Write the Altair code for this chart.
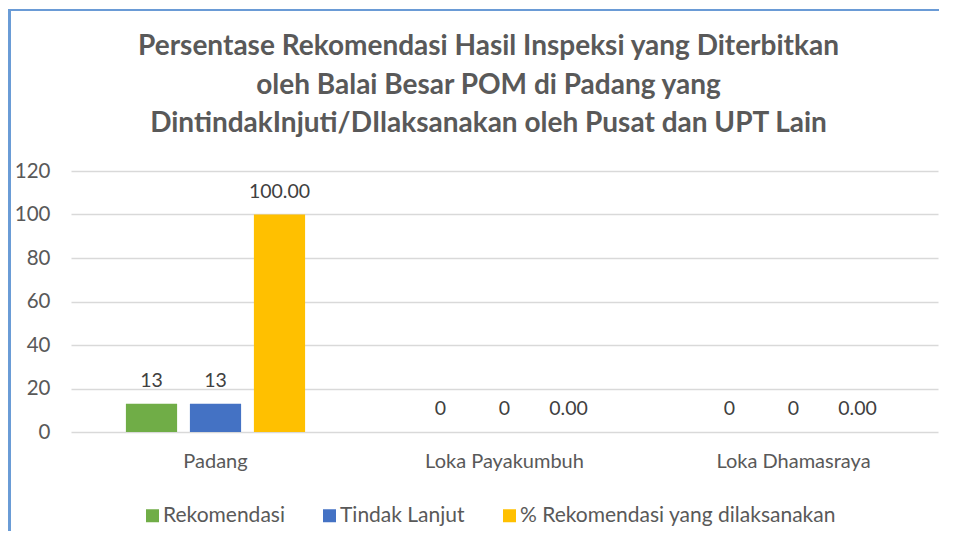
import altair as alt
import pandas as pd

categories = ["Padang", "Loka Payakumbuh", "Loka Dhamasraya"]
series = ["Rekomendasi", "Tindak Lanjut", "% Rekomendasi yang dilaksanakan"]
rekomendasi = [13, 0, 0]
tindak_lanjut = [13, 0, 0]
persen = [100.00, 0.00, 0.00]
colors = ["#70AD47", "#4472C4", "#FFC000"]

rows = []
for i, c in enumerate(categories):
    rows.append({"cat": c, "series": series[0], "value": rekomendasi[i], "label": f"{rekomendasi[i]:d}"})
    rows.append({"cat": c, "series": series[1], "value": tindak_lanjut[i], "label": f"{tindak_lanjut[i]:d}"})
    rows.append({"cat": c, "series": series[2], "value": persen[i], "label": f"{persen[i]:.2f}"})
df = pd.DataFrame(rows)

FONT = "Lato"
GREY = "#595959"

x_enc = alt.X("cat:N", sort=categories, title=None,
              scale=alt.Scale(paddingInner=0.38, paddingOuter=0.19),
              axis=alt.Axis(labelAngle=0, labelFontSize=20, labelColor=GREY, labelFont=FONT,
                            domain=False, ticks=False, tickSize=0, labelPadding=19))
xoff = alt.XOffset("series:N", sort=series, scale=alt.Scale(paddingInner=0.2, paddingOuter=0))
y_enc = alt.Y("value:Q", title=None,
              scale=alt.Scale(domain=[0, 120]),
              axis=alt.Axis(values=[0, 20, 40, 60, 80, 100, 120], labelFontSize=20.5, labelColor=GREY,
                            labelFont=FONT, domain=False, ticks=False, tickSize=0, labelPadding=21,
                            gridColor="#D9D9D9", gridWidth=1.5))

base = alt.Chart(df)

bars = base.mark_bar().encode(
    x=x_enc, xOffset=xoff, y=y_enc,
    color=alt.Color("series:N", sort=series, scale=alt.Scale(domain=series, range=colors),
                    legend=alt.Legend(title=None, orient="none", legendX=71, legendY=334,
                                      direction="horizontal", symbolType="square", symbolSize=169,
                                      symbolStrokeWidth=0, labelFontSize=21, labelFont=FONT,
                                      labelColor=GREY, columnPadding=34, labelOffset=0,
                                      labelLimit=0)),
)

labels = base.mark_text(baseline="alphabetic", dy=-17, fontSize=19.5, font=FONT, color="#404040").encode(
    x=alt.X("cat:N", sort=categories), xOffset=alt.XOffset("series:N", sort=series), y="value:Q",
    text="label:N",
)

border_top = alt.Chart(df).mark_rule(color="#6A9BD6", strokeWidth=2).encode(
    x=alt.value(-62), x2=alt.value(868), y=alt.value(-161))
border_left = alt.Chart(df).mark_rule(color="#6A9BD6", strokeWidth=2).encode(
    x=alt.value(-61.5), y=alt.value(-162), y2=alt.value(360))

chart = alt.layer(border_top, border_left, bars, labels).properties(
    width=867, height=261,
    padding={"left": 63, "top": 163, "right": 8, "bottom": 106},
    autosize=alt.AutoSizeParams(type="none"),
    title=alt.TitleParams(
        text=["Persentase Rekomendasi Hasil Inspeksi yang Diterbitkan",
              "oleh Balai Besar POM di Padang yang",
              "DintindakInjuti/DIlaksanakan oleh Pusat dan UPT Lain"],
        font=FONT, fontSize=28, fontWeight="bold", color=GREY, lineHeight=38.5,
        anchor="middle", frame="group", dx=-16, dy=130, offset=0),
).configure(background="white").configure_view(stroke=None)

chart.save("out.html", embed_options={"renderer": "svg", "actions": False})
